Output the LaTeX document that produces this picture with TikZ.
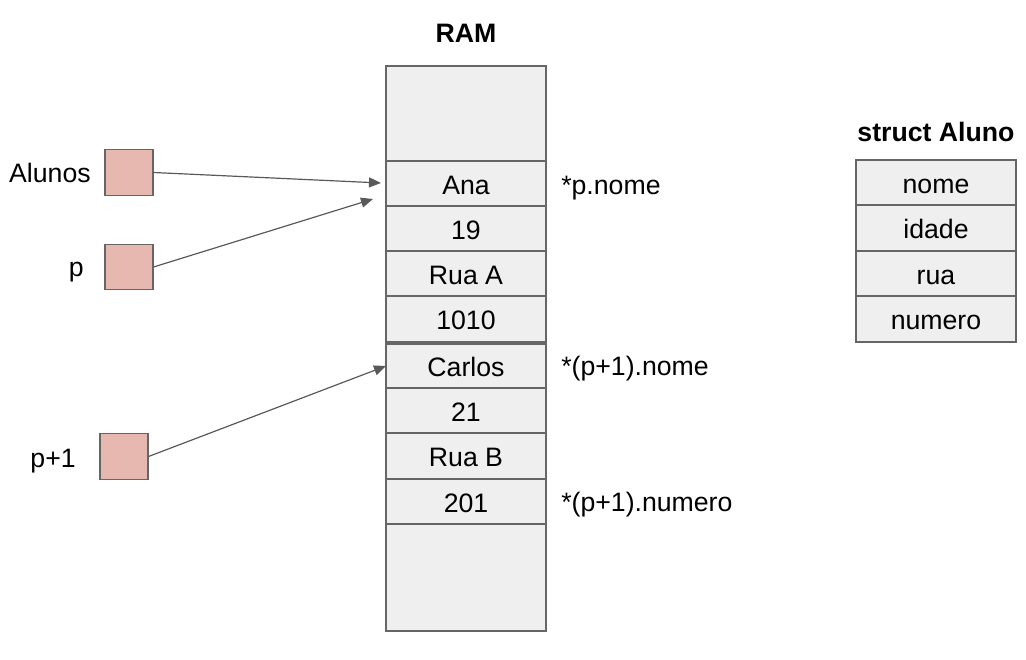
\documentclass[tikz,border=0pt]{standalone}
\usepackage{fontspec}
\setmainfont{Liberation Sans}
\usetikzlibrary{arrows.meta}
\definecolor{cellfill}{HTML}{EFEFEF}
\definecolor{cellline}{HTML}{666666}
\definecolor{ptrfill}{HTML}{E6B8AF}
\definecolor{arrowcol}{HTML}{595959}
\begin{document}
\begin{tikzpicture}[x=0.75pt,y=-0.75pt,
  txt/.style={inner sep=0pt,font=\fontsize{20}{24}\selectfont,text height=15.8pt,text depth=0pt},
  ttl/.style={txt,font=\fontsize{20}{24}\selectfont\bfseries},
  cell/.style={txt,draw=cellline,fill=cellfill,line width=0.8pt,minimum width=120pt},
  ptr/.style={draw=cellline,fill=ptrfill,line width=0.8pt,inner sep=0pt,minimum width=36pt,minimum height=34pt},
  link/.style={draw=arrowcol,line width=0.9pt,-{Triangle[length=9pt,width=7.5pt]}}]
\useasboundingbox (0,0) rectangle (1026,660);
% RAM title
\node[ttl] (ramtitle) at (466,31.5) {RAM};
% RAM column
\node[cell,minimum height=71.25pt] (top) at (466,113.5) {};
\node[cell,minimum height=33.75pt] (ana) at (466,183.5) {Ana};
\node[cell,minimum height=33.75pt] (c19) at (466,228.5) {19};
\node[cell,minimum height=33.75pt] (ruaa) at (466,273.5) {Rua A};
\node[cell,minimum height=34.5pt] (c1010) at (466,319) {1010};
\node[cell,minimum height=33pt] (carlos) at (466,366) {Carlos};
\node[cell,minimum height=33.75pt] (c21) at (466,410.5) {21};
\node[cell,minimum height=34.5pt] (ruab) at (466,456) {Rua B};
\node[cell,minimum height=33.75pt] (c201) at (466,501.5) {201};
\node[cell,minimum height=80.25pt] (bottom) at (466,577.5) {};
% struct
\node[ttl] (structtitle) at (936,130.5) {struct Aluno};
\node[cell,minimum height=33.75pt] (snome) at (936,182.5) {nome};
\node[cell,minimum height=34.5pt] (sidade) at (936,228) {idade};
\node[cell,minimum height=33.75pt] (srua) at (936,273.5) {rua};
\node[cell,minimum height=34.5pt] (snumero) at (936,319) {numero};
% pointers
\node[ptr] (alunosbox) at (129,172.5) {};
\node[ptr] (pbox) at (129,267) {};
\node[ptr] (p1box) at (124,456.5) {};
\node[txt,anchor=east] (alunoslbl) at (91,171.5) {Alunos};
\node[txt,anchor=east] (plbl) at (84,265.5) {p};
\node[txt,anchor=east] (p1lbl) at (76,456.5) {p+1};
% annotations
\node[txt,anchor=west] (ann1) at (561,183.5) {*p.nome};
\node[txt,anchor=west] (ann2) at (561,364.5) {*(p+1).nome};
\node[txt,anchor=west] (ann3) at (561,500.5) {*(p+1).numero};
% arrow targets
\coordinate (t1) at (381,183);
\coordinate (t2) at (373,199);
\coordinate (t3) at (386,366);
\draw[link] (alunosbox.east) -- (t1);
\draw[link] (pbox.east) -- (t2);
\draw[link] (p1box.east) -- (t3);
\end{tikzpicture}
\end{document}
